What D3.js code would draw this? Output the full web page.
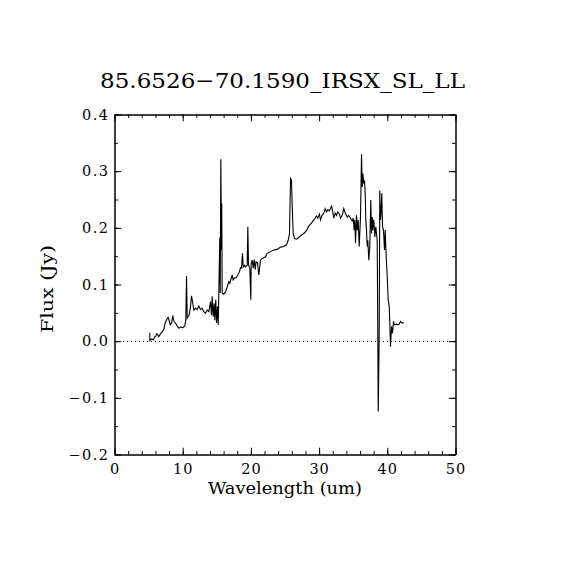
<!DOCTYPE html>
<html>
<head>
<meta charset="utf-8">
<script src="https://cdn.jsdelivr.net/npm/d3@7"></script>
<style>
  body { margin: 0; background: #fff; }
  svg { display: block; }
  text { font-family: "DejaVu Serif", serif; fill: #000; }
</style>
</head>
<body>
<div id="chart"></div>
<script>
// spectrum
var wavelength = [5.18,5.18,5.43,5.67,5.87,6.06,6.20,6.35,6.50,6.64,6.85,7.04,7.23,7.43,7.58,7.73,7.87,8.02,8.17,8.36,
  8.55,8.70,8.94,9.19,9.43,9.68,10.01,10.31,10.45,10.56,10.66,10.95,11.14,11.29,11.44,11.63,11.88,12.13,12.36,12.61,
  12.86,13.09,13.34,13.59,13.83,14.08,14.22,14.33,14.47,14.62,14.71,14.85,14.96,15.10,15.21,15.29,15.44,15.50,15.59,15.69,
  15.72,15.79,16.03,16.28,16.53,16.76,16.91,17.11,17.26,17.40,17.60,17.84,18.08,18.33,18.48,18.62,18.77,18.87,19.06,19.21,
  19.46,19.55,19.65,19.84,19.99,20.04,20.19,20.34,20.48,20.63,20.75,20.97,21.16,21.41,21.66,22.14,22.39,22.87,23.36,23.86,
  24.34,24.82,25.22,25.47,25.66,25.81,25.95,26.06,26.20,26.39,26.69,27.02,27.38,27.76,28.15,28.49,28.84,29.22,29.62,29.81,
  30.06,30.21,30.45,30.69,30.89,31.09,31.28,31.48,31.67,31.82,32.01,32.16,32.36,32.55,32.74,32.99,33.14,33.39,33.62,33.87,
  34.12,34.36,34.60,34.85,35.00,35.15,35.23,35.34,35.48,35.59,35.73,35.88,36.07,36.22,36.32,36.41,36.55,36.66,36.76,36.85,
  36.95,37.05,37.14,37.29,37.43,37.58,37.68,37.79,37.87,38.02,38.17,38.31,38.52,38.61,38.67,38.81,38.90,39.00,39.11,39.19,
  39.30,39.44,39.59,39.69,39.84,39.99,40.13,40.28,40.37,40.47,40.62,40.76,40.91,41.06,41.35,41.69,41.94,42.18,42.42];
var flux = [0.015,0.001,0.004,0.002,0.007,0.009,0.013,0.011,0.008,0.011,0.015,0.017,0.021,0.032,0.036,0.040,0.042,0.036,0.029,0.032,
  0.045,0.035,0.032,0.027,0.023,0.025,0.024,0.027,0.037,0.115,0.041,0.046,0.061,0.080,0.070,0.055,0.058,0.056,0.062,0.056,
  0.058,0.052,0.049,0.055,0.052,0.070,0.046,0.079,0.043,0.067,0.037,0.073,0.032,0.061,0.029,0.082,0.183,0.085,0.321,0.161,
  0.243,0.085,0.083,0.087,0.096,0.105,0.102,0.111,0.117,0.108,0.112,0.112,0.117,0.123,0.130,0.129,0.155,0.131,0.134,0.131,
  0.134,0.202,0.134,0.129,0.073,0.137,0.143,0.129,0.144,0.126,0.140,0.138,0.117,0.143,0.146,0.149,0.155,0.158,0.161,0.162,
  0.166,0.167,0.170,0.178,0.190,0.287,0.284,0.237,0.190,0.181,0.180,0.183,0.187,0.190,0.195,0.203,0.208,0.214,0.221,0.217,
  0.224,0.214,0.222,0.226,0.234,0.228,0.232,0.230,0.234,0.238,0.228,0.217,0.226,0.222,0.228,0.224,0.217,0.222,0.234,0.225,
  0.219,0.222,0.217,0.212,0.217,0.196,0.214,0.173,0.222,0.196,0.214,0.167,0.219,0.330,0.272,0.296,0.278,0.284,0.261,0.214,
  0.196,0.167,0.178,0.143,0.167,0.249,0.190,0.219,0.196,0.214,0.184,0.202,0.178,0.008,-0.124,0.008,0.266,0.214,0.231,0.261,
  0.202,0.196,0.161,0.196,0.149,0.114,0.073,0.061,0.032,-0.010,0.026,0.014,0.035,0.029,0.030,0.029,0.035,0.032,0.033];

var xDomain = [0, 50];
var yDomain = [-0.2, 0.4];
var xMajor = [0, 10, 20, 30, 40, 50];
var yMajor = [-0.2, -0.1, 0.0, 0.1, 0.2, 0.3, 0.4];
var titleText = "85.6526\u221270.1590_IRSX_SL_LL";
var xLabel = "Wavelength (um)";
var yLabel = "Flux (Jy)";

(function(){
  var W = 570, H = 570;
  var pLeft = 114.5, pRight = 455.5, pTop = 114.5, pBottom = 454.5;
  var majorLen = 6.8, minorLen = 3.4;

  var svg = d3.select("#chart").append("svg")
    .attr("width", W).attr("height", H);

  var x = d3.scaleLinear().domain(xDomain).range([pLeft, pRight]);
  var y = d3.scaleLinear().domain(yDomain).range([pBottom, pTop]);

  var xMinor = d3.range(0, 50.001, 2);
  var yMinor = d3.range(-0.2, 0.4001, 0.05);

  // major axes with labels, ticks pointing inward
  var gx = svg.append("g").attr("transform", "translate(0," + pBottom + ")")
    .call(d3.axisBottom(x).tickValues(xMajor).tickFormat(d3.format("d"))
      .tickSizeInner(-majorLen).tickSizeOuter(0).tickPadding(9.5));
  var gy = svg.append("g").attr("transform", "translate(" + pLeft + ",0)")
    .call(d3.axisLeft(y).tickValues(yMajor).tickFormat(d3.format(".1f"))
      .tickSizeInner(-majorLen).tickSizeOuter(0).tickPadding(5));
  svg.append("g").attr("transform", "translate(0," + pTop + ")")
    .call(d3.axisTop(x).tickValues(xMajor).tickFormat("").tickSizeInner(-majorLen).tickSizeOuter(0));
  svg.append("g").attr("transform", "translate(" + pRight + ",0)")
    .call(d3.axisRight(y).tickValues(yMajor).tickFormat("").tickSizeInner(-majorLen).tickSizeOuter(0));

  // minor ticks
  svg.append("g").attr("transform", "translate(0," + pBottom + ")")
    .call(d3.axisBottom(x).tickValues(xMinor).tickFormat("").tickSizeInner(-minorLen).tickSizeOuter(0));
  svg.append("g").attr("transform", "translate(0," + pTop + ")")
    .call(d3.axisTop(x).tickValues(xMinor).tickFormat("").tickSizeInner(-minorLen).tickSizeOuter(0));
  svg.append("g").attr("transform", "translate(" + pLeft + ",0)")
    .call(d3.axisLeft(y).tickValues(yMinor).tickFormat("").tickSizeInner(-minorLen).tickSizeOuter(0));
  svg.append("g").attr("transform", "translate(" + pRight + ",0)")
    .call(d3.axisRight(y).tickValues(yMinor).tickFormat("").tickSizeInner(-minorLen).tickSizeOuter(0));

  svg.selectAll(".domain").attr("stroke", "#000").attr("stroke-width", 1);
  svg.selectAll(".tick line").attr("stroke", "#000").attr("stroke-width", 1);
  gx.selectAll(".tick text").attr("font-size", "14.5px").attr("font-family", "DejaVu Serif")
    .attr("letter-spacing", "1px");
  gy.selectAll(".tick text").attr("font-size", "14.5px").attr("font-family", "DejaVu Serif")
    .attr("letter-spacing", "1.5px")
    .text(function(d){ return d3.format(".1f")(d).replace("\u2212", "\u2212 ").replace("\u2212 ", "\u2212"); });

  // zero line (dotted)
  var y0 = Math.round(y(0)) + 0.5;
  svg.append("line")
    .attr("x1", x(xDomain[0])).attr("x2", x(xDomain[1]))
    .attr("y1", y0).attr("y2", y0)
    .attr("stroke", "#000").attr("stroke-width", 1)
    .attr("shape-rendering", "crispEdges")
    .attr("stroke-dasharray", "1,3");

  // spectrum
  var pts = wavelength.map(function(w, i){ return [w, flux[i]]; });
  var line = d3.line().x(function(d){ return x(d[0]); }).y(function(d){ return y(d[1]); });
  svg.append("path")
    .datum(pts)
    .attr("d", line)
    .attr("fill", "none")
    .attr("stroke", "#000")
    .attr("stroke-width", 1.1);

  // labels
  svg.append("text")
    .attr("x", 282.5).attr("y", 88)
    .attr("text-anchor", "middle")
    .attr("font-size", "21px")
    .attr("textLength", 365).attr("lengthAdjust", "spacingAndGlyphs")
    .text(titleText);

  svg.append("text")
    .attr("x", 285).attr("y", 494)
    .attr("text-anchor", "middle")
    .attr("font-size", "16px")
    .attr("textLength", 154).attr("lengthAdjust", "spacingAndGlyphs")
    .text(xLabel);

  svg.append("text")
    .attr("transform", "translate(52.5,289) rotate(-90)")
    .attr("text-anchor", "middle")
    .attr("font-size", "16px")
    .attr("textLength", 88).attr("lengthAdjust", "spacingAndGlyphs")
    .text(yLabel);
})();
</script>
</body>
</html>
